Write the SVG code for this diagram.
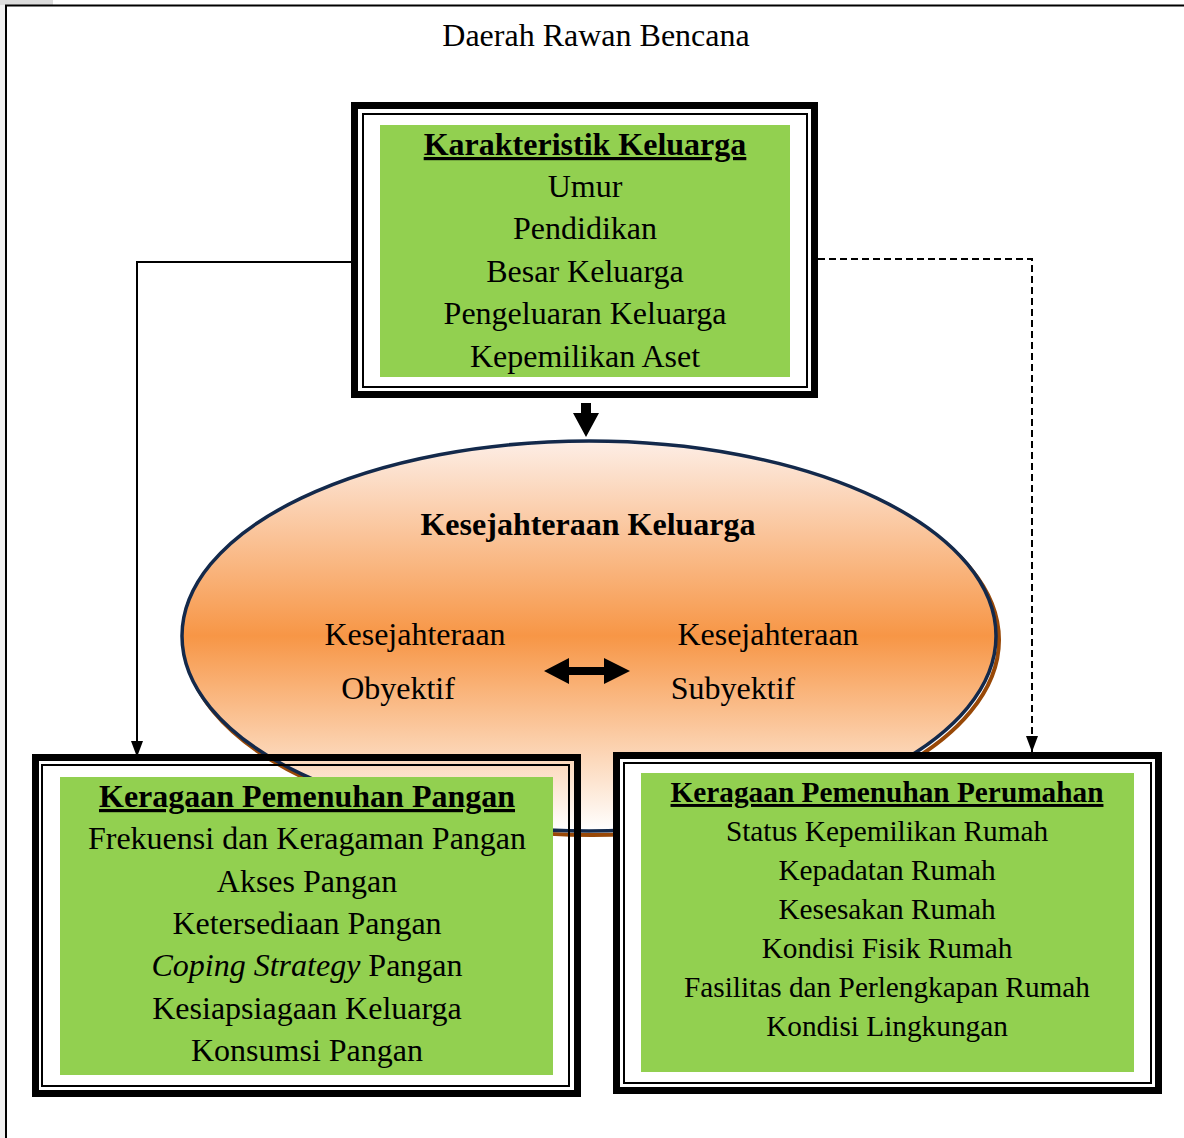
<svg xmlns="http://www.w3.org/2000/svg" width="1184" height="1138" viewBox="0 0 1184 1138">
  <defs>
    <linearGradient id="ellGrad" x1="0" y1="0" x2="0" y2="1">
      <stop offset="0" stop-color="#fdeee6"/>
      <stop offset="0.5" stop-color="#f79646"/>
      <stop offset="1" stop-color="#ffffff"/>
    </linearGradient>
    <marker id="arrowHead" markerWidth="16" markerHeight="12" refX="16" refY="6" orient="auto" markerUnits="userSpaceOnUse">
      <path d="M0,0 L16,6 L0,12 Z" fill="#000"/>
    </marker>
    <style>
      .t { font-family: "Liberation Serif", "Times New Roman", serif; fill: #000; text-anchor: middle; }
      .s32 { font-size: 32px; }
      .s29 { font-size: 29.3px; }
      .b { font-weight: bold; text-decoration: underline; }
      .thick { fill: none; stroke: #000; stroke-width: 7; }
      .thin { fill: none; stroke: #000; stroke-width: 2; }
      .green { fill: #92d050; }
      .conn { fill: none; stroke: #000; stroke-width: 2; }
    </style>
  </defs>

  <rect x="0" y="0" width="1184" height="1138" fill="#fff"/>
  <rect x="0" y="0" width="53" height="5" fill="#dcdcdc"/>
  <rect x="0" y="5" width="5" height="1133" fill="#f0f0f0"/>
  <path d="M6,1138 V5.5 H1184" fill="none" stroke="#000" stroke-width="2"/>

  <text class="t s32" x="596" y="46">Daerah Rawan Bencana</text>

  <g id="connectors">
    <path class="conn" d="M352,262 H137 V757" marker-end="url(#arrowHead)"/>
    <path class="conn" d="M818,259 H1032 V752" stroke-dasharray="7 4" marker-end="url(#arrowHead)"/>
    <polygon points="581,403 591,403 591,413 599,413 586,437 573,413 581,413" fill="#000"/>
  </g>

  <g id="kesejahteraan">
    <ellipse cx="592" cy="640" rx="407" ry="195" fill="none" stroke="#984807" stroke-width="4"/>
    <ellipse cx="589" cy="636" rx="407" ry="195" fill="url(#ellGrad)" stroke="#13294b" stroke-width="3.5"/>
    <text class="t s32" x="588" y="535" font-weight="bold">Kesejahteraan Keluarga</text>
    <text class="t s32" x="415" y="645">Kesejahteraan</text>
    <text class="t s32" x="398" y="699">Obyektif</text>
    <text class="t s32" x="768" y="645">Kesejahteraan</text>
    <text class="t s32" x="733" y="699">Subyektif</text>
    <polygon points="544,671 569,658 569,667 604,667 604,658 630,671 604,684 604,675 569,675 569,684" fill="#000"/>
  </g>

  <g id="karakteristik">
    <rect class="thick" x="354.5" y="105.5" width="460" height="289" fill="#fff" style="fill:#fff"/>
    <rect class="thin" x="363" y="114" width="444" height="273"/>
    <rect class="green" x="380" y="125" width="410" height="252"/>
    <text class="t s32 b" x="585" y="155">Karakteristik Keluarga</text>
    <text class="t s32" x="585" y="197">Umur</text>
    <text class="t s32" x="585" y="239">Pendidikan</text>
    <text class="t s32" x="585" y="282">Besar Keluarga</text>
    <text class="t s32" x="585" y="324">Pengeluaran Keluarga</text>
    <text class="t s32" x="585" y="367">Kepemilikan Aset</text>
  </g>

  <g id="pangan">
    <rect class="thick" x="35.5" y="757.5" width="542" height="336"/>
    <rect class="thin" x="42" y="765" width="527" height="321"/>
    <rect class="green" x="60" y="777" width="493" height="298"/>
    <text class="t s32 b" x="307" y="807">Keragaan Pemenuhan Pangan</text>
    <text class="t s32" x="307" y="849">Frekuensi dan Keragaman Pangan</text>
    <text class="t s32" x="307" y="892">Akses Pangan</text>
    <text class="t s32" x="307" y="934">Ketersediaan Pangan</text>
    <text class="t s32" x="307" y="976"><tspan font-style="italic">Coping Strategy</tspan> Pangan</text>
    <text class="t s32" x="307" y="1019">Kesiapsiagaan Keluarga</text>
    <text class="t s32" x="307" y="1061">Konsumsi Pangan</text>
  </g>

  <g id="perumahan">
    <rect class="thick" x="616.5" y="755.5" width="542" height="335" style="fill:#fff"/>
    <rect class="thin" x="624" y="763" width="527" height="320"/>
    <rect class="green" x="641" y="773" width="493" height="299"/>
    <text class="t s29 b" x="887" y="802">Keragaan Pemenuhan Perumahan</text>
    <text class="t s29" x="887" y="841">Status Kepemilikan Rumah</text>
    <text class="t s29" x="887" y="880">Kepadatan Rumah</text>
    <text class="t s29" x="887" y="919">Kesesakan Rumah</text>
    <text class="t s29" x="887" y="958">Kondisi Fisik Rumah</text>
    <text class="t s29" x="887" y="997">Fasilitas dan Perlengkapan Rumah</text>
    <text class="t s29" x="887" y="1036">Kondisi Lingkungan</text>
  </g>
</svg>
